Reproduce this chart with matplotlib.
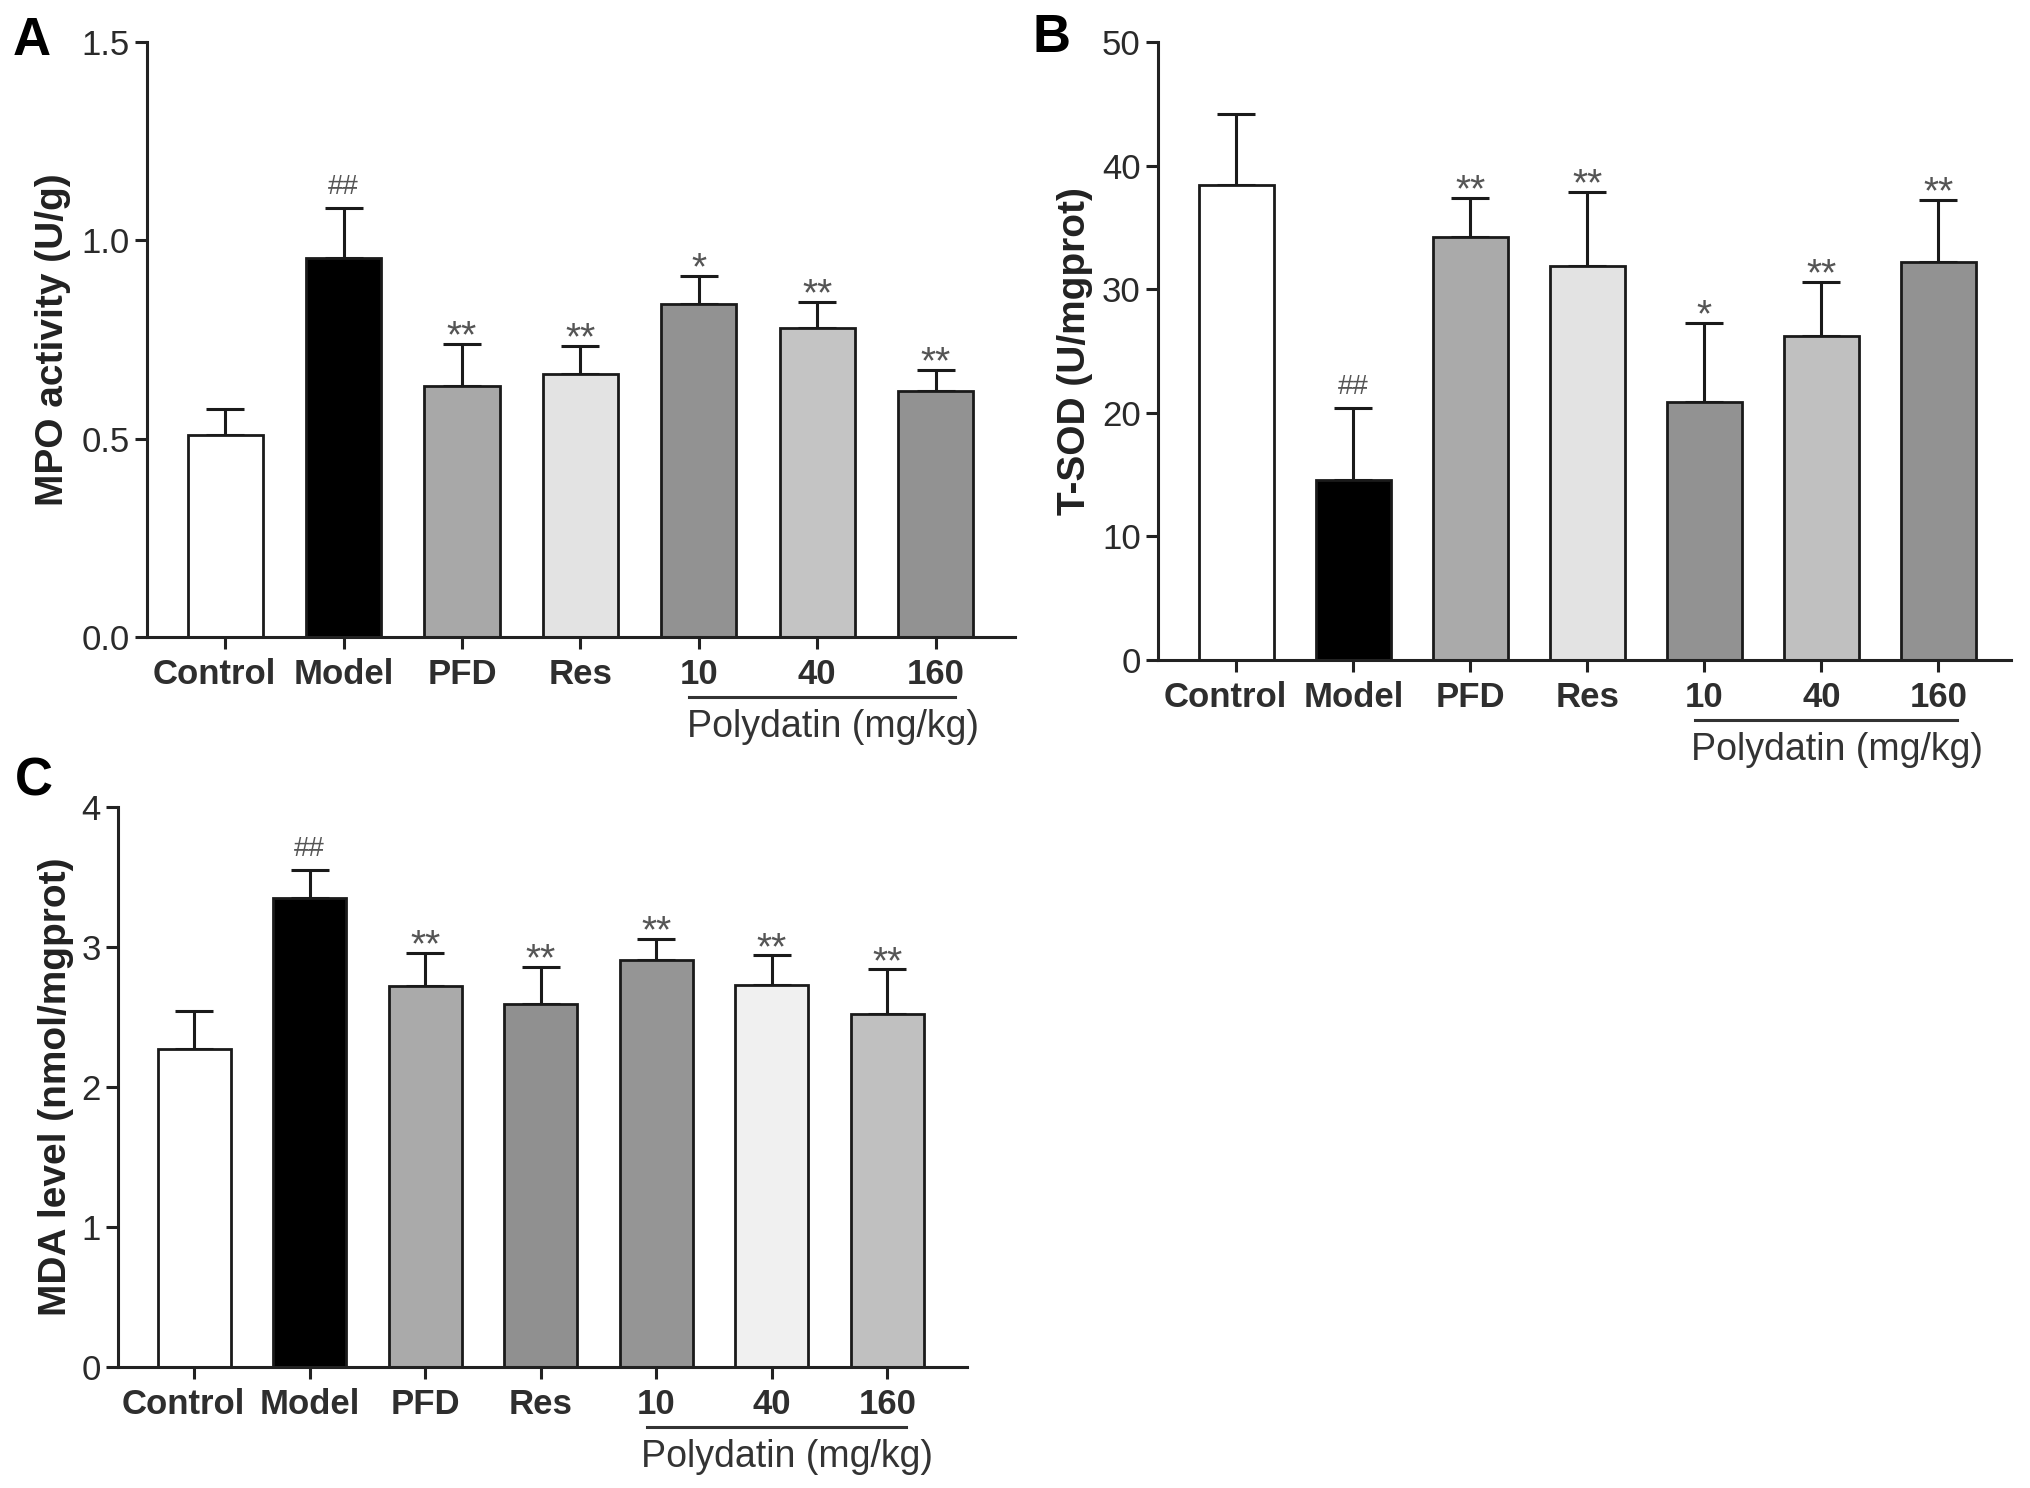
import numpy as np
import matplotlib
matplotlib.use("Agg")
import matplotlib.pyplot as plt
from matplotlib.transforms import blended_transform_factory, ScaledTranslation

plt.rcParams['font.family'] = ['Liberation Sans', 'DejaVu Sans']

# data
groups = ["Control", "Model", "PFD", "Res", "10", "40", "160"]

mpo_mean = [0.508, 0.956, 0.633, 0.664, 0.840, 0.779, 0.619]
mpo_err  = [0.066, 0.125, 0.106, 0.069, 0.070, 0.065, 0.055]
mpo_sig  = ["", "##", "**", "**", "*", "**", "**"]
mpo_colors = ["#ffffff", "#000000", "#a8a8a8", "#e3e3e3", "#929292", "#c4c4c4", "#929292"]

sod_mean = [38.45, 14.6, 34.2, 31.9, 20.9, 26.2, 32.2]
sod_err  = [5.75, 5.8, 3.2, 6.0, 6.4, 4.4, 5.0]
sod_sig  = ["", "##", "**", "**", "*", "**", "**"]
sod_colors = ["#ffffff", "#000000", "#aaaaaa", "#e3e3e3", "#929292", "#c0c0c0", "#929292"]

mda_mean = [2.27, 3.35, 2.72, 2.59, 2.91, 2.73, 2.52]
mda_err  = [0.27, 0.20, 0.24, 0.265, 0.15, 0.21, 0.32]
mda_sig  = ["", "##", "**", "**", "**", "**", "**"]
mda_colors = ["#ffffff", "#000000", "#aaaaaa", "#909090", "#959595", "#f0f0f0", "#c0c0c0"]

W, H = 2031, 1488
fig = plt.figure(figsize=(W / 100, H / 100), dpi=100)

TICK_LEN, TICK_PAD = 8.5, 6.5


def px_axes(left, top, right, bottom):
    return fig.add_axes([left / W, 1 - bottom / H, (right - left) / W, (bottom - top) / H])


def panel(ax, means, errs, sigs, colors, yticks, fmt, ylabel, xlim, label_x):
    x = np.arange(len(groups))
    ax.bar(x, means, width=0.635, color=colors, edgecolor="#1a1a1a", linewidth=2.0, zorder=2)
    ax.errorbar(x, means, yerr=[np.zeros(len(errs)), errs], fmt="none", ecolor="#1a1a1a",
                elinewidth=2.2, capsize=13.5, capthick=2.2, zorder=1)
    tops = np.array(means) + np.array(errs)
    for xi, t, s in zip(x, tops, sigs):
        if not s:
            continue
        if s.startswith("#"):
            ax.annotate(s, (xi, t), xytext=(0, 10), textcoords="offset points", ha="center",
                        va="baseline", fontsize=20, color="#555555", annotation_clip=False)
        else:
            ax.annotate(s, (xi, t), xytext=(0, -2.5), textcoords="offset points", ha="center",
                        va="baseline", fontsize=28, color="#555555", annotation_clip=False)
    ax.set_xlim(*xlim)
    ax.set_ylim(yticks[0], yticks[-1])
    ax.set_yticks(yticks)
    ax.set_yticklabels([fmt.format(v) for v in yticks], fontsize=25, color="#2a2a2a")
    ax.set_xticks(x)
    # first label sits a little left of its tick, as in the original
    ax.set_xticklabels([""] + groups[1:], fontsize=25, fontweight="bold", color="#2e2e2e")
    ax.annotate(groups[0], (0, 0), xycoords=("data", "axes fraction"),
                xytext=(-8, -(TICK_LEN + TICK_PAD)), textcoords="offset points",
                ha="center", va="top", fontsize=25, fontweight="bold", color="#2e2e2e",
                annotation_clip=False)
    for sp in ["top", "right"]:
        ax.spines[sp].set_visible(False)
    for sp in ["left", "bottom"]:
        ax.spines[sp].set_linewidth(2.2)
        ax.spines[sp].set_color("#222222")
    ax.tick_params(axis="both", length=TICK_LEN, width=2.2, color="#222222")
    ax.tick_params(axis="x", pad=TICK_PAD)
    ax.tick_params(axis="y", pad=4)
    ax.set_ylabel(ylabel, fontsize=28, fontweight="bold", color="#222222")
    ax.yaxis.set_label_coords(label_x, 0.5)

    # Polydatin bracket under the dose groups
    tr = blended_transform_factory(ax.transData, ax.transAxes)
    ax.plot([3.92, 6.16], [0, 0], color="#333333", linewidth=2.2, clip_on=False,
            transform=tr + ScaledTranslation(0, -0.60, fig.dpi_scale_trans))
    ax.text(5.13, 0, "Polydatin (mg/kg)", fontsize=27, color="#333333", ha="center",
            va="baseline", transform=tr + ScaledTranslation(0, -1.00, fig.dpi_scale_trans))


axA = px_axes(147, 42, 1015, 637)
panel(axA, mpo_mean, mpo_err, mpo_sig, mpo_colors, [0, 0.5, 1.0, 1.5], "{:.1f}",
      "MPO activity (U/g)", (-0.66, 6.67), -0.087)

axB = px_axes(1158, 42, 2011, 660)
panel(axB, sod_mean, sod_err, sod_sig, sod_colors, [0, 10, 20, 30, 40, 50], "{:d}",
      "T-SOD (U/mgprot)", (-0.67, 6.62), -0.076)

axC = px_axes(118, 807, 967, 1367)
panel(axC, mda_mean, mda_err, mda_sig, mda_colors, [0, 1, 2, 3, 4], "{:d}",
      "MDA level (nmol/mgprot)", (-0.66, 6.69), -0.052)

# panel letters
for lx, ly, s in [(13, 55, "A"), (1032, 52, "B"), (15, 795, "C")]:
    fig.text(lx / W, 1 - ly / H, s, fontsize=38, fontweight="bold", ha="left", va="baseline")

fig.savefig("out.png", dpi=100)
